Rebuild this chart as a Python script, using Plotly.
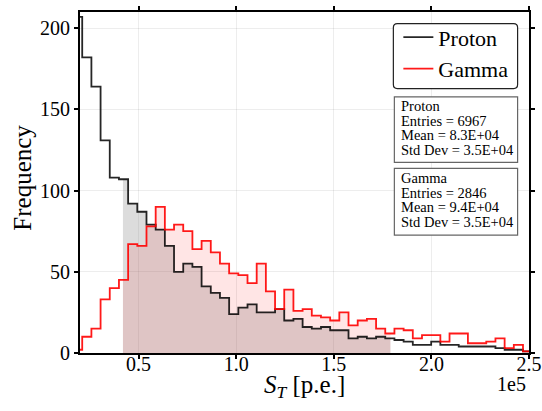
import numpy as np
import plotly.graph_objects as go

# ---------------- data ----------------
BIN_START = 16430.0          # left edge of first bin
BIN_WIDTH = 4704.0           # width of each bin
proton_counts = [207, 182, 164, 131, 108, 107, 92, 87, 79, 76,
                 66, 50, 55, 53, 41, 37, 34, 24, 28, 30,
                 25, 25, 27, 20, 21, 16, 15, 16, 14, 14,
                 9, 10, 9, 10, 9, 8, 7, 5, 5, 7,
                 5, 5, 4, 4, 4, 4, 3, 2, 2, 1]
gamma_counts = [2, 10, 15, 33, 40, 45, 67, 66, 78, 90,
                76, 79, 75, 64, 69, 62, 55, 49, 48, 43,
                55, 38, 27, 39, 26, 27, 23, 22, 20, 25,
                17, 20, 21, 15, 12, 15, 14, 9, 11, 11,
                7, 12, 12, 6, 6, 7, 9, 3, 5, 1]
cut_low, cut_high = 42000.0, 179000.0

x_tickvals = [50000, 100000, 150000, 200000, 250000]
x_ticktext = ["0.5", "1.0", "1.5", "2.0", "2.5"]
y_tickvals = [0, 50, 100, 150, 200]

series_names = ["Proton", "Gamma"]
stats_proton = ["Proton", "Entries = 6967", "Mean = 8.3E+04", "Std Dev = 3.5E+04"]
stats_gamma = ["Gamma", "Entries = 2846", "Mean = 9.4E+04", "Std Dev = 3.5E+04"]

FONT = "Liberation Serif, serif"

edges = BIN_START + BIN_WIDTH * np.arange(len(proton_counts) + 1)


def step_xy(counts):
    return list(edges), list(counts) + [counts[-1]]


def clipped_step(counts, lo, hi):
    idx = int(np.searchsorted(edges, lo, side="right") - 1)
    xs, ys = [lo], [counts[idx]]
    for i in range(1, len(edges) - 1):
        if lo < edges[i] < hi:
            xs.append(edges[i])
            ys.append(counts[i])
    xs.append(hi)
    ys.append(ys[-1])
    return xs, ys


fig = go.Figure()

# shaded cut region
px_, py_ = clipped_step(proton_counts, cut_low, cut_high)
fig.add_trace(go.Scatter(x=px_, y=py_, mode="lines", line=dict(width=0, shape="hv"),
                         fill="tozeroy", fillcolor="rgba(128,128,128,0.28)",
                         showlegend=False, hoverinfo="skip"))
gx_, gy_ = clipped_step(gamma_counts, cut_low, cut_high)
fig.add_trace(go.Scatter(x=gx_, y=gy_, mode="lines", line=dict(width=0, shape="hv"),
                         fill="tozeroy", fillcolor="rgba(255,0,0,0.10)",
                         showlegend=False, hoverinfo="skip"))

# histogram outlines
sx, sy = step_xy(proton_counts)
fig.add_trace(go.Scatter(x=sx, y=sy, mode="lines", name=series_names[0],
                         line=dict(color="rgba(0,0,0,0.85)", width=1.8, shape="hv"),
                         legendgroup="p"))
sx, sy = step_xy(gamma_counts)
fig.add_trace(go.Scatter(x=sx, y=sy, mode="lines", name=series_names[1],
                         line=dict(color="rgba(255,0,0,0.9)", width=1.8, shape="hv"),
                         legendgroup="g"))

W, H = 542, 411
ML, MR, MT, MB = 79.5, 13.3, 11.7, 58
PW, PH = W - ML - MR, H - MT - MB


def px2x(p):          # p: pixel x in the page
    return (p - ML) / PW


def px2y(p):          # p: pixel y in the page
    return (H - MB - p) / PH


shapes = []
# rounded legend box
x0, x1, y0, y1 = px2x(393), px2x(517.3), px2y(88.3), px2y(23.3)
rx, ry = 4 / PW, 4 / PH
path = (f"M {x0+rx},{y0} L {x1-rx},{y0} Q {x1},{y0} {x1},{y0+ry} "
        f"L {x1},{y1-ry} Q {x1},{y1} {x1-rx},{y1} L {x0+rx},{y1} "
        f"Q {x0},{y1} {x0},{y1-ry} L {x0},{y0+ry} Q {x0},{y0} {x0+rx},{y0} Z")
shapes.append(dict(type="path", path=path, xref="paper", yref="paper",
                   line=dict(color="#222", width=1.2), fillcolor="white", layer="above"))
# stats boxes
for (top, bot) in [(96.7, 162.3), (168.3, 235.0)]:
    shapes.append(dict(type="rect", xref="paper", yref="paper",
                       x0=px2x(394), x1=px2x(517.3), y0=px2y(bot), y1=px2y(top),
                       line=dict(color="#666", width=1.2), fillcolor="white", layer="above"))

annotations = []
for lines, tops in [(stats_proton, [106.2, 120.6, 135.3, 150.0]),
                    (stats_gamma, [177.8, 192.4, 207.0, 221.4])]:
    for t, yy in zip(lines, tops):
        annotations.append(dict(text=t, xref="paper", yref="paper", x=px2x(398.5), y=px2y(yy),
                                xanchor="left", yanchor="middle", showarrow=False,
                                font=dict(family=FONT, size=14.5, color="black")))
annotations.append(dict(text="<i>S</i><sub><i>T</i></sub> [p.e.]", xref="paper", yref="paper",
                        x=px2x(304), y=px2y(387), xanchor="center", yanchor="middle",
                        showarrow=False, font=dict(family=FONT, size=25, color="black")))
annotations.append(dict(text="1e5", xref="paper", yref="paper",
                        x=px2x(511), y=px2y(384), xanchor="center", yanchor="middle",
                        showarrow=False, font=dict(family=FONT, size=20, color="black")))
annotations.append(dict(text="Frequency", xref="paper", yref="paper",
                        x=px2x(22), y=px2y(178), xanchor="center", yanchor="middle",
                        textangle=-90, showarrow=False,
                        font=dict(family=FONT, size=25, color="black")))

axis_common = dict(showline=True, linecolor="black", linewidth=2, mirror="ticks",
                   ticks="outside", ticklen=4, tickwidth=1.5, tickcolor="black",
                   showgrid=True, gridcolor="rgba(0,0,0,0.07)", gridwidth=1,
                   zeroline=False, automargin=False, ticklabeloverflow="allow",
                   tickfont=dict(family=FONT, size=20, color="black"))

fig.update_layout(
    template="none",
    width=W, height=H, autosize=False,
    margin=dict(l=ML, r=MR, t=MT, b=MB, pad=0, autoexpand=False),
    paper_bgcolor="white", plot_bgcolor="white",
    font=dict(family=FONT, color="black"),
    xaxis=dict(range=[20000, 250000], tickvals=x_tickvals, ticktext=x_ticktext,
               ticklabelstandoff=-12, **axis_common),
    yaxis=dict(range=[0, 210], tickvals=y_tickvals, **axis_common),
    shapes=shapes, annotations=annotations,
    showlegend=True,
    legend=dict(x=px2x(398), y=px2y(16), xanchor="left", yanchor="top",
                bgcolor="rgba(0,0,0,0)", borderwidth=0,
                font=dict(family=FONT, size=22, color="black"),
                itemwidth=30, tracegroupgap=0, traceorder="grouped"),
)

fig.write_html("out.html", config={"displayModeBar": False, "responsive": False},
               post_script="document.body.style.margin='0px';document.body.style.overflow='hidden';")
